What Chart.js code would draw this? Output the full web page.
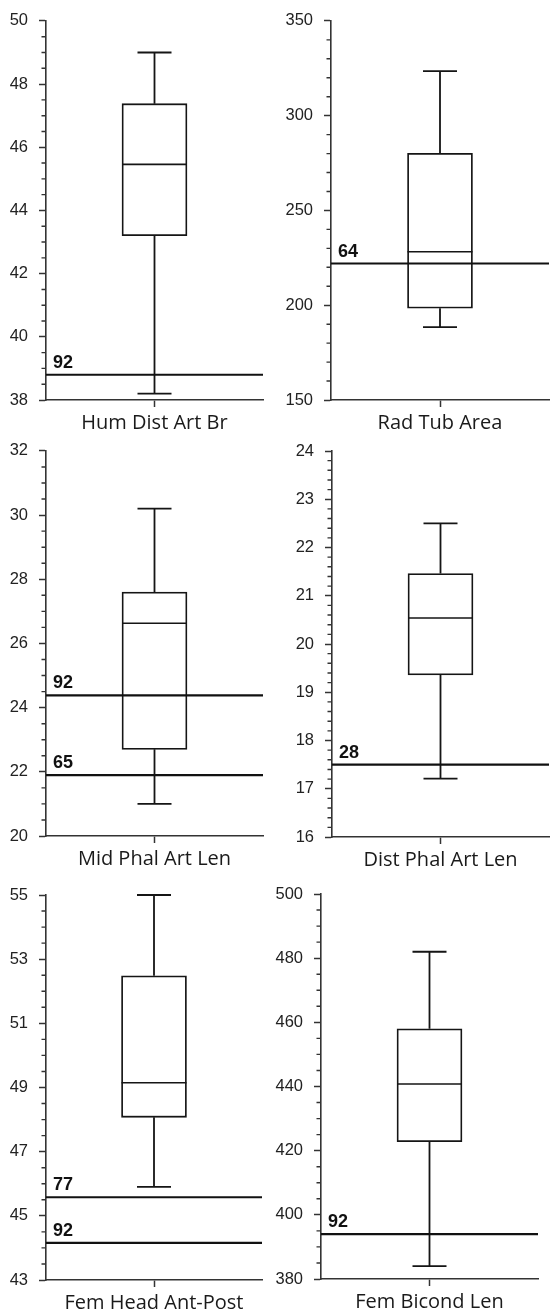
<!DOCTYPE html>
<html>
<head>
<meta charset="utf-8">
<script src="https://cdn.jsdelivr.net/npm/chart.js@4.4.1/dist/chart.umd.min.js"></script>
<style>
  html, body { margin: 0; padding: 0; background: #fff; }
  body { width: 550px; height: 1313px; position: relative; overflow: hidden; }
  canvas { position: absolute; }
</style>
</head>
<body>
<canvas id="c0"></canvas>
<canvas id="c1"></canvas>
<canvas id="c2"></canvas>
<canvas id="c3"></canvas>
<canvas id="c4"></canvas>
<canvas id="c5"></canvas>
<script>
// ---- data ----
const categories = ['Hum Dist Art Br', 'Rad Tub Area', 'Mid Phal Art Len', 'Dist Phal Art Len', 'Fem Head Ant-Post', 'Fem Bicond Len'];
const whiskerLow  = [38.2, 188.4, 21.0, 17.21, 45.9, 384];
const q1Values    = [43.2, 198.4, 22.7, 19.36, 48.07, 422.8];
const medianVals  = [45.46, 228.2, 26.63, 20.54, 49.15, 440.8];
const q3Values    = [47.38, 280.2, 27.6, 21.46, 52.48, 458];
const whiskerHigh = [49.0, 323.5, 30.2, 22.5, 55.0, 482];
const refLabels   = [['92'], ['64'], ['92', '65'], ['28'], ['77', '92'], ['92']];
const refValues   = [[38.8], [222], [24.38, 21.9], [17.5], [45.58, 44.16], [394]];
const yMin   = [38, 150, 20, 16, 43, 380];
const yMax   = [50, 350, 32, 24, 55, 500];
const yStep  = [2, 50, 2, 1, 2, 20];
const yMinor = [0.5, 10, 0.5, 0.2, 0.5, 5];

// ---- layout (positions only) ----
const panels = [
  {left: 0,   top: 0,   w: 275, h: 440, yW: 46, padR: 12, padT: 15, xH: 40},
  {left: 275, top: 0,   w: 275, h: 440, yW: 56, padR: 1,  padT: 15, xH: 40},
  {left: 0,   top: 430, w: 275, h: 440, yW: 46, padR: 12, padT: 20, xH: 34},
  {left: 275, top: 430, w: 275, h: 440, yW: 57, padR: 1,  padT: 21, xH: 33},
  {left: 0,   top: 870, w: 275, h: 443, yW: 46, padR: 13, padT: 25, xH: 33},
  {left: 275, top: 870, w: 275, h: 443, yW: 46, padR: 12, padT: 24, xH: 34}
];

const LINE = '#151515';
const AXIS = '#333333';

const boxExtras = {
  id: 'boxExtras',
  beforeDatasetsDraw(chart) {
    const i = chart.options.plugins.boxExtras.idx;
    const ys = chart.scales.y, xs = chart.scales.x;
    const ctx = chart.ctx;
    const cx = xs.getPixelForValue(0);
    const capW = 34;
    ctx.save();
    ctx.strokeStyle = LINE;
    ctx.lineWidth = 1.8;
    ctx.beginPath();
    ctx.moveTo(cx, ys.getPixelForValue(q3Values[i]));
    ctx.lineTo(cx, ys.getPixelForValue(whiskerHigh[i]));
    ctx.moveTo(cx, ys.getPixelForValue(q1Values[i]));
    ctx.lineTo(cx, ys.getPixelForValue(whiskerLow[i]));
    const yh = ys.getPixelForValue(whiskerHigh[i]);
    const yl = ys.getPixelForValue(whiskerLow[i]);
    ctx.moveTo(cx - capW / 2, yh); ctx.lineTo(cx + capW / 2, yh);
    ctx.moveTo(cx - capW / 2, yl); ctx.lineTo(cx + capW / 2, yl);
    ctx.stroke();
    ctx.restore();
  },
  afterDatasetsDraw(chart) {
    const i = chart.options.plugins.boxExtras.idx;
    const ys = chart.scales.y;
    const ctx = chart.ctx;
    const bar = chart.getDatasetMeta(0).data[0];
    const area = chart.chartArea;
    ctx.save();
    // median
    ctx.strokeStyle = LINE;
    ctx.lineWidth = 1.6;
    const ym = ys.getPixelForValue(medianVals[i]);
    ctx.beginPath();
    ctx.moveTo(bar.x - bar.width / 2, ym);
    ctx.lineTo(bar.x + bar.width / 2, ym);
    ctx.stroke();
    // reference lines
    ctx.lineWidth = 2.2;
    ctx.strokeStyle = '#111';
    ctx.fillStyle = '#111';
    ctx.font = 'bold 18px "Liberation Sans", Arial, sans-serif';
    ctx.textAlign = 'left';
    ctx.textBaseline = 'alphabetic';
    refValues[i].forEach((v, k) => {
      const yy = ys.getPixelForValue(v);
      ctx.beginPath();
      ctx.moveTo(area.left, yy);
      ctx.lineTo(area.right, yy);
      ctx.stroke();
      ctx.fillText(refLabels[i][k], area.left + 7, yy - 7);
    });
    // minor ticks
    ctx.strokeStyle = AXIS;
    ctx.lineWidth = 1.4;
    const n = Math.round((yMax[i] - yMin[i]) / yMinor[i]);
    const per = Math.round(yStep[i] / yMinor[i]);
    ctx.beginPath();
    for (let k = 1; k < n; k++) {
      if (k % per === 0) continue;
      const v = yMin[i] + k * yMinor[i];
      const yy = ys.getPixelForValue(v);
      ctx.moveTo(ys.right - 4.5, yy);
      ctx.lineTo(ys.right, yy);
    }
    ctx.stroke();
    ctx.restore();
  }
};

panels.forEach((p, i) => {
  const cv = document.getElementById('c' + i);
  cv.width = p.w; cv.height = p.h;
  cv.style.left = p.left + 'px'; cv.style.top = p.top + 'px';
  cv.style.width = p.w + 'px'; cv.style.height = p.h + 'px';
  new Chart(cv, {
    type: 'bar',
    data: {
      labels: [categories[i]],
      datasets: [{
        data: [[q1Values[i], q3Values[i]]],
        backgroundColor: '#ffffff',
        borderColor: LINE,
        borderWidth: 1.8,
        borderSkipped: false,
        barThickness: 65
      }]
    },
    options: {
      responsive: false,
      animation: false,
      devicePixelRatio: 1,
      layout: { padding: { top: p.padT, right: p.padR, left: 0, bottom: 0 } },
      plugins: {
        legend: { display: false },
        tooltip: { enabled: false },
        boxExtras: { idx: i }
      },
      scales: {
        x: {
          offset: true,
          grid: { display: true, drawOnChartArea: false, offset: false, tickLength: 7, tickColor: AXIS, tickWidth: 1.5 },
          border: { display: true, color: AXIS, width: 1.6 },
          ticks: { color: '#1a1a1a', padding: 4, font: { family: '"Open Sans", sans-serif', size: 20 }, maxRotation: 0 },
          afterFit: s => { s.height = p.xH; }
        },
        y: {
          min: yMin[i], max: yMax[i],
          grid: { display: true, drawOnChartArea: false, tickLength: 7, tickColor: AXIS, tickWidth: 1.5 },
          border: { display: true, color: AXIS, width: 1.6 },
          ticks: { stepSize: yStep[i], color: '#222', padding: 11, font: { family: '"Liberation Sans", Arial, sans-serif', size: 16.5 } },
          afterFit: s => { s.width = p.yW; }
        }
      }
    },
    plugins: [boxExtras]
  });
});
</script>
</body>
</html>
